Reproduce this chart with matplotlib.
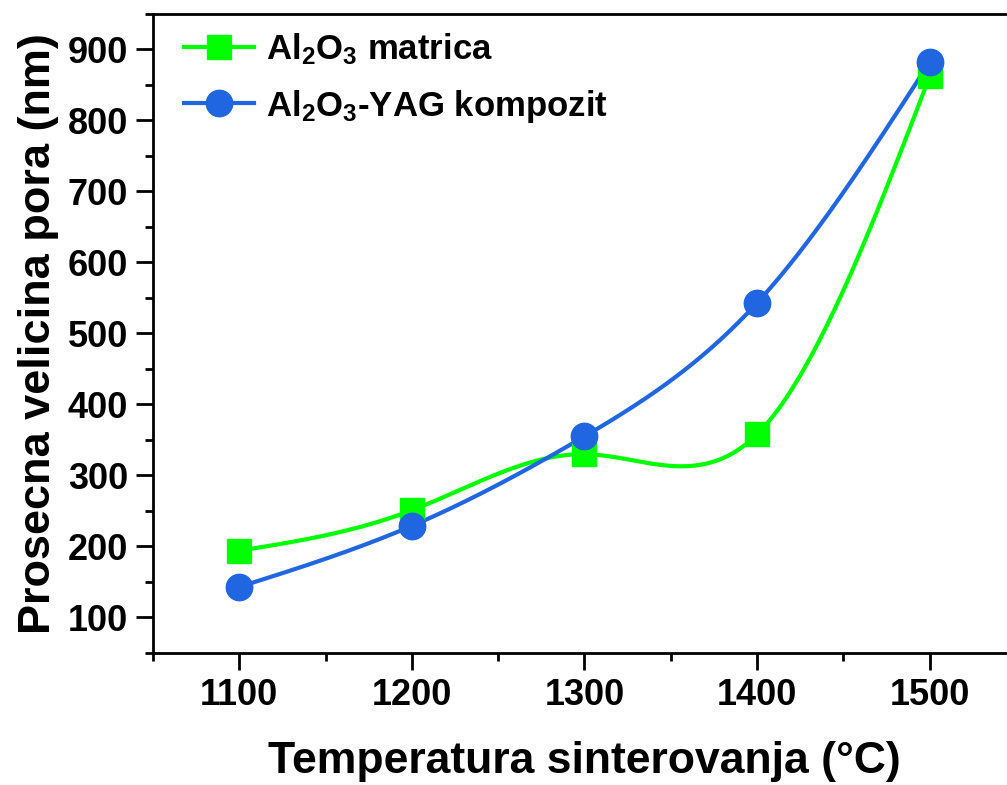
import numpy as np
import matplotlib
matplotlib.use("Agg")
import matplotlib.pyplot as plt
from matplotlib.ticker import MultipleLocator

plt.rcParams['font.family'] = ['Liberation Sans', 'DejaVu Sans']
plt.rcParams['font.weight'] = 'bold'
plt.rcParams['mathtext.fontset'] = 'custom'
plt.rcParams['mathtext.rm'] = 'Liberation Sans:bold'
plt.rcParams['mathtext.bf'] = 'Liberation Sans:bold'
plt.rcParams['mathtext.it'] = 'Liberation Sans:bold'

# data
temps = [1100, 1200, 1300, 1400, 1500]
al2o3 = [194, 251, 330, 358, 862]
al2o3_yag = [143, 229, 355, 543, 882]


def natural_spline(x, y, xs):
    x = np.asarray(x, float)
    y = np.asarray(y, float)
    n = len(x)
    h = np.diff(x)
    A = np.zeros((n, n))
    b = np.zeros(n)
    A[0, 0] = A[-1, -1] = 1
    for i in range(1, n - 1):
        A[i, i - 1] = h[i - 1]
        A[i, i] = 2 * (h[i - 1] + h[i])
        A[i, i + 1] = h[i]
        b[i] = 6 * ((y[i + 1] - y[i]) / h[i] - (y[i] - y[i - 1]) / h[i - 1])
    M = np.linalg.solve(A, b)
    idx = np.clip(np.searchsorted(x, xs) - 1, 0, n - 2)
    x0, x1 = x[idx], x[idx + 1]
    hh = x1 - x0
    t0 = x1 - xs
    t1 = xs - x0
    return (M[idx] * t0**3 / (6 * hh) + M[idx + 1] * t1**3 / (6 * hh)
            + (y[idx] / hh - M[idx] * hh / 6) * t0
            + (y[idx + 1] / hh - M[idx + 1] * hh / 6) * t1)


green = '#00FF00'
blue = '#1F66E0'

fig = plt.figure(figsize=(10.07, 7.85), dpi=100)
ax = fig.add_axes([0.1519, 0.1682, 0.857, 0.814])

xs = np.linspace(temps[0], temps[-1], 400)
ax.plot(xs, natural_spline(temps, al2o3, xs), color=green, lw=3, zorder=2)
ax.plot(xs, natural_spline(temps, al2o3_yag, xs), color=blue, lw=3, zorder=2)
ax.plot(temps, al2o3, 's', color=green, ms=17, zorder=3)
ax.plot(temps, al2o3_yag, 'o', color=blue, ms=19, zorder=4)

# legend handles
ax.plot([], [], '-s', color=green, lw=3, ms=17, label=r'Al$_2$O$_3$ matrica')
ax.plot([], [], '-o', color=blue, lw=3, ms=19, label=r'Al$_\mathbf{2}$O$_\mathbf{3}$-YAG kompozit')
leg = ax.legend(loc='upper left', frameon=False, fontsize=25, handlelength=2.0,
                borderaxespad=0.0, labelspacing=0.6, handletextpad=0.35,
                bbox_to_anchor=(0.02, 0.995))

ax.set_xlim(1050, 1550)
ax.set_ylim(50, 950)
ax.xaxis.set_major_locator(MultipleLocator(100))
ax.xaxis.set_minor_locator(MultipleLocator(50))
ax.yaxis.set_major_locator(MultipleLocator(100))
ax.yaxis.set_minor_locator(MultipleLocator(50))
ax.tick_params(which='major', direction='out', length=12, width=2, labelsize=26, pad=6)
ax.tick_params(which='minor', direction='out', length=6, width=2)
for s in ax.spines.values():
    s.set_linewidth(2)

ax.set_xlabel('Temperatura sinterovanja (°C)', fontsize=32, fontweight='bold', labelpad=20)
ax.set_ylabel('Prosecna velicina pora (nm)', fontsize=32.5, fontweight='bold', labelpad=6)

fig.savefig('out.png', dpi=100)
